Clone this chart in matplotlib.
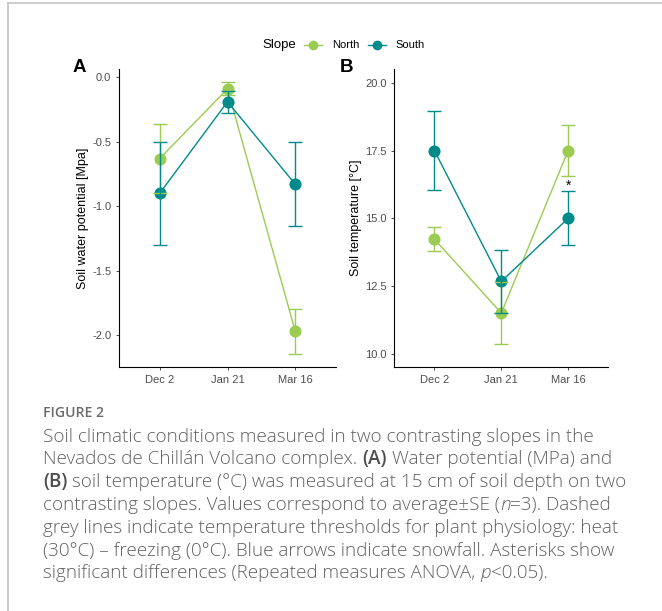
import matplotlib
matplotlib.use("Agg")
import matplotlib.pyplot as plt
from matplotlib.lines import Line2D

plt.rcParams['font.family'] = ['Liberation Sans', 'DejaVu Sans']
plt.rcParams['axes.unicode_minus'] = False

# ---------------- data ----------------
dates = ["Dec 2", "Jan 21", "Mar 16"]
slopes = ["North", "South"]

wp_north = [-0.63, -0.09, -1.97]
wp_north_se = [0.27, 0.05, 0.175]
wp_south = [-0.90, -0.19, -0.83]
wp_south_se = [0.40, 0.085, 0.325]

temp_north = [14.23, 11.50, 17.50]
temp_north_se = [0.43, 1.15, 0.95]
temp_south = [17.50, 12.67, 15.00]
temp_south_se = [1.45, 1.17, 1.00]

wp_ticks = [0.0, -0.5, -1.0, -1.5, -2.0]
temp_ticks = [10.0, 12.5, 15.0, 17.5, 20.0]
signif_date = "Mar 16"
signif_y = 16.2

colors = {"North": "#9CCB52", "South": "#008B8B"}

caption_lines = [
    [("Soil climatic conditions measured in two contrasting slopes in the", {})],
    [("Nevados de Chillán Volcano complex. ", {}), ("(A)", {"weight": "semibold"}),
     (" Water potential (MPa) and", {})],
    [("(B)", {"weight": "semibold"}),
     (" soil temperature (°C) was measured at 15 cm of soil depth on two", {})],
    [("contrasting slopes. Values correspond to average±SE (", {}),
     ("n", {"style": "italic"}), ("=3). Dashed", {})],
    [("grey lines indicate temperature thresholds for plant physiology: heat", {})],
    [("(30°C) – freezing (0°C). Blue arrows indicate snowfall. Asterisks show", {})],
    [("significant differences (Repeated measures ANOVA, ", {}),
     ("p", {"style": "italic"}), ("<0.05).", {})],
]

# ---------------- figure ----------------
W, H = 662, 611
fig = plt.figure(figsize=(W / 100, H / 100), dpi=100)
fig.patch.set_facecolor("white")


def fx(px):
    return px / W


def fy(py):
    return 1 - py / H


def make_ax(left, right, top, bottom):
    return fig.add_axes([fx(left), fy(bottom), fx(right) - fx(left), fy(top) - fy(bottom)])


axA = make_ax(119, 336, 69, 367)
axB = make_ax(394.3, 608.3, 69, 367)

xpos = list(range(1, len(dates) + 1))


def draw_panel(ax, series, ticks, ylim, ylabel):
    for name, vals, se in series:
        c = colors[name]
        ax.plot(xpos, vals, color=c, lw=1.0, zorder=2)
        ax.plot(xpos, vals, 'o', color=c, ms=8.7, mec='none', zorder=3)
    for name, vals, se in series:
        c = colors[name]
        ax.errorbar(xpos, vals, yerr=se, fmt='none', ecolor=c, elinewidth=1.0,
                    capsize=5.2, capthick=1.0, zorder=4)
    ax.set_xlim(0.4, 3.6)
    ax.set_ylim(*ylim)
    ax.set_xticks(xpos)
    ax.set_xticklabels(dates)
    ax.set_yticks(ticks)
    ax.set_yticklabels([f"{t:.1f}" for t in ticks])
    for s in ["top", "right"]:
        ax.spines[s].set_visible(False)
    for s in ["left", "bottom"]:
        ax.spines[s].set_linewidth(0.8)
        ax.spines[s].set_color("black")
    ax.tick_params(axis='both', length=2.5, width=0.6, color="#333333",
                   labelsize=8, labelcolor="#4D4D4D", pad=3)
    ax.set_ylabel(ylabel, fontsize=9, color="black")


draw_panel(axA, [("North", wp_north, wp_north_se), ("South", wp_south, wp_south_se)],
           wp_ticks, (-2.246, 0.064), "Soil water potential [Mpa]")
draw_panel(axB, [("North", temp_north, temp_north_se), ("South", temp_south, temp_south_se)],
           temp_ticks, (9.51, 20.51), "Soil temperature [°C]")
axA.yaxis.set_label_coords(-0.138, 0.5)
axB.yaxis.set_label_coords(-0.152, 0.5)

axB.text(xpos[dates.index(signif_date)], signif_y, "*", ha='center', va='center',
         fontsize=10, color="black")

# panel letters
fig.text(fx(73), fy(71.5), "A", fontsize=13.5, fontweight='bold', ha='left', va='baseline')
fig.text(fx(340), fy(71.5), "B", fontsize=13.5, fontweight='bold', ha='left', va='baseline')

# legend (manual, ggplot style: title on the left)
fig.text(fx(262), fy(45), "Slope", fontsize=9.5, ha='left', va='center')
for name, mx, tx in [("North", 313, 332), ("South", 377, 395)]:
    c = colors[name]
    fig.add_artist(Line2D([fx(mx - 9), fx(mx + 9)], [fy(45), fy(45)], color=c, lw=1.0,
                          transform=fig.transFigure))
    fig.add_artist(Line2D([fx(mx)], [fy(45)], marker='o', color=c, ms=7, mec='none',
                          transform=fig.transFigure))
    fig.text(fx(tx), fy(45), name, fontsize=8, ha='left', va='center')

# frame lines (top and left)
fig.add_artist(Line2D([fx(8), fx(W)], [fy(3), fy(3)], color="#C4C4C4", lw=1.2,
                      transform=fig.transFigure))
fig.add_artist(Line2D([fx(8), fx(8)], [fy(3), fy(H)], color="#C4C4C4", lw=1.2,
                      transform=fig.transFigure))

# ---------------- caption ----------------
renderer = fig.canvas.get_renderer()
cap_family = ['Open Sans', 'DejaVu Sans']
cap_color = "#616161"
base_kw = dict(family=cap_family, color=cap_color, weight='light')


def text_w(s, size, **kw):
    if not s:
        return 0.0
    kk = dict(base_kw)
    kk.update(kw)
    t = fig.text(0, 0, s, fontsize=size, **kk)
    w = t.get_window_extent(renderer).width
    t.remove()
    return w


def seg_width(s, size, kw, sp):
    core = s.strip(" ")
    lead = len(s) - len(s.lstrip(" "))
    trail = len(s) - len(s.rstrip(" "))
    return lead * sp, text_w(core, size, **kw), trail * sp, core


ref_size = 10.0
longest = "(30°C) – freezing (0°C). Blue arrows indicate snowfall. Asterisks show"
w_ref = text_w(longest, ref_size)
cap_size = ref_size * 572.0 / w_ref
space_w = text_w("a a", cap_size) - text_w("aa", cap_size)

fig.text(fx(43), fy(417), "FIGURE 2", fontsize=cap_size * 0.74,
         family=cap_family, color="#6A6A6A", weight='semibold', ha='left', va='baseline')

y0 = 441.5
dy = 22.8
for i, line in enumerate(caption_lines):
    x = 43.0
    y = y0 + i * dy
    for s, kw in line:
        lead, w, trail, core = seg_width(s, cap_size, kw, space_w)
        x += lead
        kk = dict(base_kw)
        kk.update(kw)
        if kw.get("weight") == "semibold":
            kk["color"] = "#4F4F4F"
        fig.text(fx(x), fy(y), core, fontsize=cap_size, ha='left', va='baseline', **kk)
        x += w + trail

fig.savefig("out.png", dpi=100, facecolor="white")
